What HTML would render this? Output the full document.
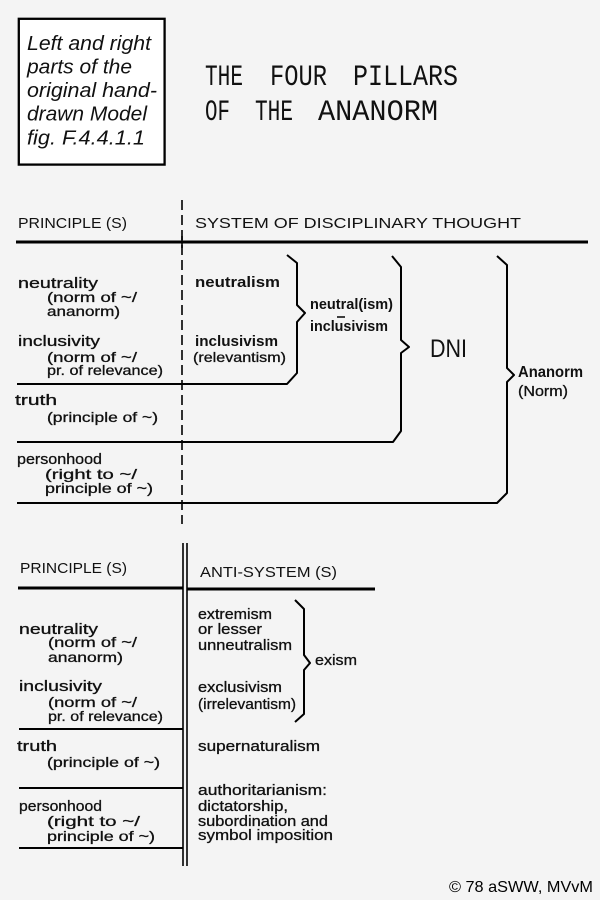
<!DOCTYPE html>
<html>
<head>
<meta charset="utf-8">
<style>
  html,body{margin:0;padding:0;background:#f4f4f4;}
  svg{display:block;}
  .h{font-family:"Liberation Sans",sans-serif;fill:#111;}
  .m{font-family:"Liberation Mono",monospace;fill:#111;}
  .hw{stroke:#111;stroke-width:0.3;}
  .b{font-weight:bold;}
</style>
</head>
<body>
<svg width="600" height="900" viewBox="0 0 600 900" xmlns="http://www.w3.org/2000/svg">
  <rect x="0" y="0" width="600" height="900" fill="#f4f4f4"/>

  <!-- Info box -->
  <rect x="18.8" y="18.8" width="145.8" height="145.8" fill="#ffffff" stroke="#000" stroke-width="2.3"/>
  <g class="h" font-style="italic" font-size="20.5" fill="#000">
    <text x="27" y="50" textLength="124" lengthAdjust="spacingAndGlyphs">Left and right</text>
    <text x="27" y="73.5" textLength="105" lengthAdjust="spacingAndGlyphs">parts of the</text>
    <text x="27" y="97" textLength="130" lengthAdjust="spacingAndGlyphs">original hand-</text>
    <text x="27" y="120.5" textLength="120" lengthAdjust="spacingAndGlyphs">drawn Model</text>
    <text x="27" y="144.5" textLength="118" lengthAdjust="spacingAndGlyphs">fig. F.4.4.1.1</text>
  </g>

  <!-- Title -->
  <g class="m" font-size="30">
    <text x="205" y="85" textLength="38" lengthAdjust="spacingAndGlyphs">THE</text>
    <text x="270" y="85" textLength="57" lengthAdjust="spacingAndGlyphs">FOUR</text>
    <text x="353" y="85" textLength="105" lengthAdjust="spacingAndGlyphs">PILLARS</text>
    <text x="205" y="120" textLength="25" lengthAdjust="spacingAndGlyphs">OF</text>
    <text x="255" y="120" textLength="38" lengthAdjust="spacingAndGlyphs">THE</text>
    <text x="318" y="120" textLength="120" lengthAdjust="spacingAndGlyphs">ANANORM</text>
  </g>

  <!-- ===== Section 1 ===== -->
  <g class="h" font-size="15">
    <text x="18" y="228" textLength="109" lengthAdjust="spacingAndGlyphs">PRINCIPLE (S)</text>
    <text x="195" y="228" textLength="326" lengthAdjust="spacingAndGlyphs">SYSTEM  OF  DISCIPLINARY  THOUGHT</text>
  </g>
  <line x1="16" y1="242" x2="588" y2="242" stroke="#000" stroke-width="3"/>
  <line x1="182" y1="200" x2="182" y2="524" stroke="#000" stroke-width="1.6" stroke-dasharray="10 5"/>
  <line x1="182" y1="236" x2="182" y2="248" stroke="#000" stroke-width="1.6"/>

  <g class="h hw" font-size="15">
    <text x="18" y="288" textLength="80" lengthAdjust="spacingAndGlyphs">neutrality</text>
    <text x="18" y="346" textLength="82" lengthAdjust="spacingAndGlyphs">inclusivity</text>
    <text x="15" y="405" textLength="42" lengthAdjust="spacingAndGlyphs">truth</text>
    <text x="17" y="464" textLength="85" lengthAdjust="spacingAndGlyphs">personhood</text>
  </g>
  <g class="h hw" font-size="14">
    <text x="47" y="302" textLength="90" lengthAdjust="spacingAndGlyphs">(norm of ~/</text>
    <text x="47" y="316" textLength="73" lengthAdjust="spacingAndGlyphs">ananorm)</text>
    <text x="47" y="362" textLength="90" lengthAdjust="spacingAndGlyphs">(norm of ~/</text>
    <text x="47" y="375" textLength="116" lengthAdjust="spacingAndGlyphs">pr. of relevance)</text>
    <text x="47" y="422" textLength="111" lengthAdjust="spacingAndGlyphs">(principle of ~)</text>
    <text x="45" y="479" textLength="92" lengthAdjust="spacingAndGlyphs">(right to ~/</text>
    <text x="45" y="493" textLength="108" lengthAdjust="spacingAndGlyphs">principle of ~)</text>
  </g>

  <g class="h b" font-size="15">
    <text x="195" y="287" textLength="85" lengthAdjust="spacingAndGlyphs">neutralism</text>
    <text x="195" y="346" textLength="83" lengthAdjust="spacingAndGlyphs">inclusivism</text>
    <text x="310" y="309" textLength="83" lengthAdjust="spacingAndGlyphs">neutral(ism)</text>
    <text x="310" y="331" textLength="78" lengthAdjust="spacingAndGlyphs">inclusivism</text>
  </g>
  <line x1="337" y1="317" x2="345" y2="317" stroke="#000" stroke-width="1.5"/>
  <g class="h hw" font-size="14">
    <text x="193" y="362" textLength="93" lengthAdjust="spacingAndGlyphs">(relevantism)</text>
  </g>
  <text class="h" x="430" y="357" font-size="25" textLength="37" lengthAdjust="spacingAndGlyphs">DNI</text>
  <text class="h b" x="518" y="377" font-size="16" textLength="65" lengthAdjust="spacingAndGlyphs">Ananorm</text>
  <text class="h hw" x="518" y="396" font-size="15" textLength="50" lengthAdjust="spacingAndGlyphs">(Norm)</text>

  <g fill="none" stroke="#000" stroke-width="2" stroke-linejoin="round">
    <path d="M17,384 L287,384 L297,373 L297,322 L305,313 L297,305 L297,263 L287,255"/>
    <path d="M17,442 L393,442 L401,431 L401,353 L409,347 L401,340 L401,267 L392,256"/>
    <path d="M17,503 L497,503 L507,493 L507,382 L514,375 L507,368 L507,265 L497,256"/>
  </g>

  <!-- ===== Section 2 ===== -->
  <g class="h" font-size="15">
    <text x="20" y="573" textLength="107" lengthAdjust="spacingAndGlyphs">PRINCIPLE (S)</text>
    <text x="200" y="577" textLength="137" lengthAdjust="spacingAndGlyphs">ANTI-SYSTEM (S)</text>
  </g>
  <line x1="183" y1="543" x2="183" y2="866" stroke="#000" stroke-width="1.6"/>
  <line x1="187" y1="543" x2="187" y2="866" stroke="#000" stroke-width="1.6"/>
  <line x1="18" y1="588" x2="183" y2="588" stroke="#000" stroke-width="3"/>
  <line x1="187" y1="589" x2="375" y2="589" stroke="#000" stroke-width="3"/>
  <g stroke="#000" stroke-width="2">
    <line x1="19" y1="729" x2="183" y2="729"/>
    <line x1="19" y1="788" x2="183" y2="788"/>
    <line x1="19" y1="848" x2="183" y2="848"/>
  </g>

  <g class="h hw" font-size="15">
    <text x="19" y="634" textLength="79" lengthAdjust="spacingAndGlyphs">neutrality</text>
    <text x="19" y="691" textLength="83" lengthAdjust="spacingAndGlyphs">inclusivity</text>
    <text x="17" y="751" textLength="40" lengthAdjust="spacingAndGlyphs">truth</text>
    <text x="19" y="811" textLength="83" lengthAdjust="spacingAndGlyphs">personhood</text>
  </g>
  <g class="h hw" font-size="14">
    <text x="48" y="647" textLength="89" lengthAdjust="spacingAndGlyphs">(norm of ~/</text>
    <text x="48" y="662" textLength="75" lengthAdjust="spacingAndGlyphs">ananorm)</text>
    <text x="48" y="707" textLength="89" lengthAdjust="spacingAndGlyphs">(norm of ~/</text>
    <text x="48" y="721" textLength="115" lengthAdjust="spacingAndGlyphs">pr. of relevance)</text>
    <text x="47" y="767" textLength="113" lengthAdjust="spacingAndGlyphs">(principle of ~)</text>
    <text x="47" y="826" textLength="93" lengthAdjust="spacingAndGlyphs">(right to ~/</text>
    <text x="47" y="841" textLength="108" lengthAdjust="spacingAndGlyphs">principle of ~)</text>
  </g>

  <g class="h hw" font-size="14.5">
    <text x="198" y="619" textLength="74" lengthAdjust="spacingAndGlyphs">extremism</text>
    <text x="198" y="634" textLength="64" lengthAdjust="spacingAndGlyphs">or lesser</text>
    <text x="198" y="650" textLength="94" lengthAdjust="spacingAndGlyphs">unneutralism</text>
    <text x="315" y="665" textLength="42" lengthAdjust="spacingAndGlyphs">exism</text>
    <text x="198" y="692" textLength="84" lengthAdjust="spacingAndGlyphs">exclusivism</text>
    <text x="198" y="709" textLength="98" lengthAdjust="spacingAndGlyphs">(irrelevantism)</text>
    <text x="198" y="751" textLength="122" lengthAdjust="spacingAndGlyphs">supernaturalism</text>
    <text x="198" y="795" textLength="129" lengthAdjust="spacingAndGlyphs">authoritarianism:</text>
    <text x="198" y="811" textLength="90" lengthAdjust="spacingAndGlyphs">dictatorship,</text>
    <text x="198" y="826" textLength="130" lengthAdjust="spacingAndGlyphs">subordination and</text>
    <text x="198" y="840" textLength="135" lengthAdjust="spacingAndGlyphs">symbol imposition</text>
  </g>
  <path d="M295,600 L304,609 L304,655 L310,663 L304,670 L304,714 L295,722" fill="none" stroke="#000" stroke-width="2" stroke-linejoin="round"/>

  <!-- Copyright -->
  <text x="449" y="892" font-family="'Liberation Sans',sans-serif" font-size="16" fill="#000" textLength="144" lengthAdjust="spacingAndGlyphs">© 78 aSWW, MVvM</text>
</svg>
</body>
</html>
